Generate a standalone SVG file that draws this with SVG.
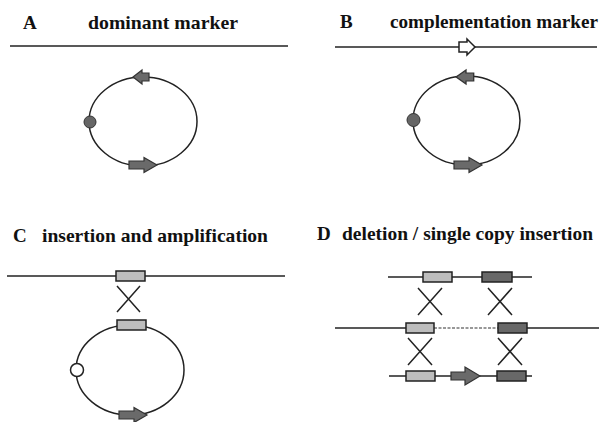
<svg xmlns="http://www.w3.org/2000/svg" width="602" height="422" viewBox="0 0 602 422">
<defs>
<path id="bigR" d="M-14,-4 H1 V-7.5 L14,0 L1,7.5 V4 H-14 Z" fill="#6a6a6a" stroke="#333" stroke-width="1.2"/>
<path id="smallL" d="M-9,0 L0,-7 V-4 H7 V4 H0 V7 Z" fill="#6a6a6a" stroke="#333" stroke-width="1.2"/>
</defs>

<g id="titles" font-family="Liberation Serif, serif" font-weight="bold" font-size="19" fill="#111">
<text x="23" y="29">A</text>
<text x="88" y="29" textLength="150" lengthAdjust="spacingAndGlyphs">dominant marker</text>
<text x="340" y="28">B</text>
<text x="390" y="28" textLength="208" lengthAdjust="spacingAndGlyphs">complementation marker</text>
<text x="13" y="242">C</text>
<text x="42" y="242" textLength="226" lengthAdjust="spacingAndGlyphs">insertion and amplification</text>
<text x="317" y="240">D</text>
<text x="342" y="240" textLength="251" lengthAdjust="spacingAndGlyphs">deletion / single copy insertion</text>
</g>

<g id="panelA" stroke="#222" stroke-width="1.5" fill="none">
<line x1="10" y1="46" x2="288" y2="46"/>
<ellipse cx="143" cy="121.5" rx="54" ry="44.5"/>
<circle cx="90" cy="122" r="6" fill="#666" stroke="#333" stroke-width="1"/>
<use href="#smallL" transform="translate(142,77)"/>
<use href="#bigR" transform="translate(143,165)"/>
</g>

<g id="panelB" stroke="#222" stroke-width="1.5" fill="none">
<line x1="335" y1="47" x2="597" y2="47"/>
<path d="M459,42 H467 V39 L475,47 L467,55 V52 H459 Z" fill="#fff"/>
<ellipse cx="466.5" cy="120.5" rx="53.5" ry="44.5"/>
<circle cx="413.5" cy="120" r="6.5" fill="#666" stroke="#333" stroke-width="1"/>
<use href="#smallL" transform="translate(466,77) scale(1.1,1)"/>
<use href="#bigR" transform="translate(468,165)"/>
</g>

<g id="panelC" stroke="#222" stroke-width="1.5" fill="none">
<line x1="7" y1="276" x2="285" y2="276"/>
<rect x="116" y="271" width="29" height="10" fill="#bdbdbd"/>
<ellipse cx="130" cy="370" rx="54" ry="45"/>
<rect x="117" y="320" width="29" height="10" fill="#bdbdbd"/>
<circle cx="77" cy="370" r="6.5" fill="#fff"/>
<use href="#bigR" transform="translate(133,415)"/>
</g>

<g id="panelD" stroke="#222" stroke-width="1.5" fill="none">
<line x1="388" y1="277" x2="532" y2="277"/>
<rect x="423" y="272" width="29" height="10" fill="#bdbdbd"/>
<rect x="482" y="272" width="30" height="10" fill="#686868"/>
<line x1="335" y1="328" x2="406" y2="328"/>
<line x1="434" y1="328" x2="498" y2="328" stroke="#777" stroke-width="1.3" stroke-dasharray="3,1.5"/>
<line x1="527" y1="328" x2="599" y2="328"/>
<rect x="406" y="323" width="28" height="10" fill="#bdbdbd"/>
<rect x="498" y="323" width="29" height="10" fill="#686868"/>
<line x1="389" y1="376" x2="532" y2="376"/>
<rect x="406" y="371" width="29" height="10" fill="#bdbdbd"/>
<path d="M451,372 H465 V367 L480,376 L465,385 V380 H451 Z" fill="#6a6a6a" stroke="#333" stroke-width="1.2"/>
<rect x="497" y="371" width="29" height="10" fill="#686868"/>
</g>

<g id="connectors" stroke="#222" stroke-width="1.5" fill="none">
<path d="M117,286 L140,312 M140,286 L117,312"/>
<path d="M418,288 L442,315 M442,288 L418,315"/>
<path d="M488,288 L512,315 M512,288 L488,315"/>
<path d="M408,338 L432,365 M432,338 L408,365"/>
<path d="M498,338 L522,365 M522,338 L498,365"/>
</g>
</svg>
